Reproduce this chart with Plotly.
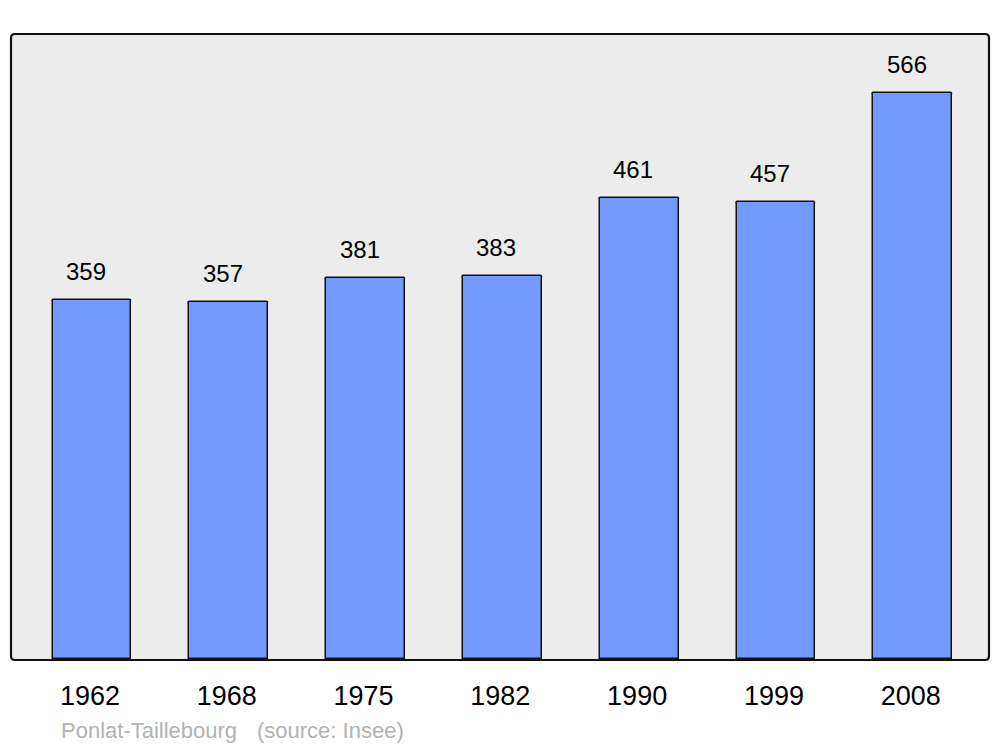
import plotly.graph_objects as go

years = ["1962", "1968", "1975", "1982", "1990", "1999", "2008"]
population = [359, 357, 381, 383, 461, 457, 566]
commune = "Ponlat-Taillebourg"
source = "(source: Insee)"

W, H = 1000, 747
L, R, T, B = 11, 11, 34, 87
pw, ph = W - L - R, H - T - B
rx, ry = 4 / pw, 4 / ph

xs = list(range(len(years)))

fig = go.Figure()
fig.add_trace(go.Bar(
    x=xs, y=population, width=0.577,
    marker=dict(color="#7499ff", line=dict(color="#111111", width=1.5), cornerradius=2),
    hoverinfo="skip",
))

for xi, v in zip(xs, population):
    fig.add_annotation(x=xi, y=v, text=str(v), showarrow=False,
                       xshift=-6, yshift=29, yanchor="middle",
                       font=dict(family="Liberation Sans, Arial", size=24, color="#000000"))

frame = (f"M {rx},0 L {1-rx},0 Q 1,0 1,{ry} L 1,{1-ry} Q 1,1 {1-rx},1 "
         f"L {rx},1 Q 0,1 0,{1-ry} L 0,{ry} Q 0,0 {rx},0 Z")
fig.add_shape(type="path", path=frame, xref="paper", yref="paper",
              fillcolor="#ececec", line=dict(width=0), layer="below")
fig.add_shape(type="path", path=frame, xref="paper", yref="paper",
              fillcolor="rgba(0,0,0,0)", line=dict(color="#111111", width=2.2), layer="above")

footer = [(59, commune), (255, source)]
for px, txt in footer:
    fig.add_annotation(x=(px - L) / pw, y=(H - B - 730) / ph, xref="paper", yref="paper",
                       text=txt, showarrow=False, xanchor="left", yanchor="middle",
                       font=dict(family="Liberation Sans, Arial", size=22, color="#b3b3b3"))

fig.update_layout(
    width=W, height=H,
    margin=dict(l=L, r=R, t=T, b=B),
    paper_bgcolor="white", plot_bgcolor="rgba(0,0,0,0)",
    showlegend=False,
    bargap=0,
    xaxis=dict(range=[-0.592, 6.557], tickvals=[x - 0.015 for x in xs], ticktext=years,
               showgrid=False, zeroline=False, showline=False,
               ticks="", ticklabelstandoff=17,
               tickfont=dict(family="Liberation Sans, Arial", size=27, color="#000000")),
    yaxis=dict(range=[-1, 625], showgrid=False, zeroline=False, showline=False,
               showticklabels=False, ticks=""),
)

fig.write_html("out.html", config={"displayModeBar": False},
               post_script="document.body.style.margin='0';document.body.style.overflow='hidden';")
